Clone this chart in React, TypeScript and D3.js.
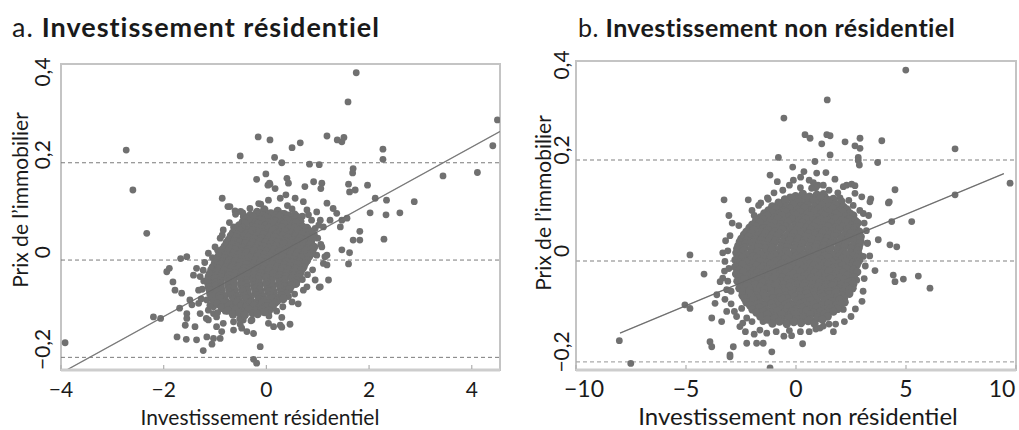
import React from "react";
import * as d3 from "d3";

// ---------- Panel a: residential investment ----------
const resOuter: [number, number][] = [
  [-2.73,0.226],[-2.6,0.144],[-0.16,0.253],[0.07,0.247],[-0.51,0.214],[0.16,0.211],[-0.19,0.166],[-0.01,0.177],
  [0.03,0.154],[-0.86,0.127],[-0.75,0.11],[-0.11,0.115],[1.75,0.385],[1.59,0.325],[1.18,0.255],[1.38,0.247],
  [1.47,0.243],[1.51,0.252],[0.66,0.241],[0.5,0.231],[2.27,0.228],[2.27,0.207],[0.3,0.2],[0.84,0.197],
  [1.03,0.196],[1.69,0.188],[1.68,0.179],[4.5,0.288],[4.41,0.235],[3.44,0.173],[4.11,0.18],[1.97,0.154],
  [1.6,0.156],[2.12,0.127],[2.34,0.123],[2.88,0.12],[0.92,0.161],[1.08,0.158],[1.06,0.147],[0.75,0.151],
  [0.4,0.168],[0.43,0.158],[0.07,0.156],[2.6,0.097],[2.02,0.097],[2.33,0.093],[1.82,0.059],[1.69,0.041],
  [1.82,0.041],[2.29,0.043],[1.47,0.021],[1.62,0.015],[1.6,-0.008],[1.08,0.027],[1.18,0.01],[1.11,-0.007],
  [1.21,-0.041],[1.03,-0.056],[0.43,-0.075],[0.3,-0.118],[0.14,-0.137],[0.3,-0.138],[0.46,-0.132],[-0.12,-0.178],
  [-2.33,0.055],[-1.67,0.003],[-1.94,-0.024],[-1.89,-0.017],[-1.82,-0.045],[-1.78,-0.062],[-1.42,-0.031],[-1.36,-0.017],
  [-1.23,-0.021],[-2.2,-0.117],[-2.06,-0.12],[-1.69,-0.099],[-1.55,-0.11],[-1.58,-0.134],[-1.45,-0.092],[-1.32,-0.089],
  [-1.17,-0.12],[-1.13,-0.103],[-1.03,-0.11],[-1.74,-0.158],[-1.56,-0.163],[-1.36,-0.164],[-1.16,-0.158],[-1.06,-0.173],
  [-1.23,-0.186],[-0.9,-0.161],[-3.92,-0.17],[-0.25,-0.204],[-0.19,-0.212],[-0.64,-0.127],[-0.51,-0.132],[-0.48,-0.14],
  [-0.38,-0.147],[-0.25,-0.151],[-0.87,-0.147],[-0.77,-0.089],[-0.64,-0.103],[-0.71,0.11],[-0.61,0.101],[1.62,0.14],
  [1.73,0.144],[0.06,0.158],[0.17,0.147],[0.38,0.134],[0.56,0.127],[0.72,0.12],[0.27,0.127],[0.04,0.123],
  [-0.32,0.106],[-0.6,0.094],[-0.38,0.089],[1.18,0.117],[1.3,0.106],[1.37,0.096],[1.24,0.082],[1.47,0.082],
  [1.11,0.068],[1.44,0.068],[1.57,0.086],[0.79,0.103],[0.98,0.099],[0.88,0.082],[1.05,0.082],[-1.29,-0.034],
  [-1.55,0.007],[-1.65,-0.068],[-1.49,-0.082],[-1.32,-0.062],[-1.16,-0.082],[-1.03,-0.096],[-1.29,-0.11],[-1.55,-0.12],
  [-1.39,-0.137],[-1.13,-0.123],[-0.97,-0.117],[-0.97,-0.137],[-0.84,-0.13],[-1.03,-0.161],[-0.64,-0.144],[-0.45,-0.123],
  [-0.28,-0.123],[0.04,-0.13],[0.27,-0.134],[0.59,-0.048],[0.79,-0.055],[1.05,-0.055],[1.18,-0.01],[1.14,0.007],
  [-0.45,0.089],[-0.32,0.082],[-0.64,0.068],[-0.84,0.062],[-0.9,0.045],[-1.0,0.027],[-1.13,0.014],[-0.77,0.034],
  [0.55,-0.07],[0.7,-0.04],[0.62,-0.09],[0.2,-0.105],[0.05,-0.115],[-0.3,-0.125],[-0.8,-0.105],[-1.2,-0.005],
  [-1.05,0.005],[-0.95,0.02],[-0.5,0.1],[0.5,0.105],[0.7,0.09],[0.95,0.065],[1.0,0.045],[0.98,0.01],
  [0.9,-0.02],[0.8,-0.03],[-1.25,-0.06],[-1.27,-0.08],[-1.22,-0.043],[-1.1,-0.093],[-0.95,-0.108],[-0.52,-0.121],
  [0.32,-0.096],[0.5,-0.086],[0.72,-0.062],[0.95,-0.041],[1.06,0.032],[1.02,0.072],[0.82,0.093],[0.41,0.112],
  [-0.15,0.116],[-0.46,0.097],[-0.72,0.077],[-0.86,0.051]
];

const resCore: [number, number][] = [
  [-0.18,0.099],[-0.04,0.104],[0.09,0.096],[0.22,0.101],[0.35,0.094],[0.02,0.09],
  [-0.31,0.092],[-0.18,0.094],[-0.06,0.091],[0.07,0.095],[0.19,0.092],[0.32,0.094],[0.44,0.091],[0.55,0.093],
  [-0.39,0.084],[-0.25,0.088],[-0.12,0.083],[0.01,0.087],[0.13,0.082],[0.26,0.089],[0.38,0.084],[0.51,0.081],[0.6,0.088],
  [-0.46,0.078],[-0.33,0.08],[-0.21,0.077],[-0.08,0.081],[0.05,0.078],[0.17,0.08],[0.3,0.077],[0.42,0.081],[0.54,0.078],[0.66,0.08],
  [-0.53,0.071],[-0.41,0.075],[-0.27,0.069],[-0.16,0.074],[-0.02,0.07],[0.11,0.076],[0.23,0.068],[0.34,0.073],[0.48,0.07],[0.58,0.075],[0.71,0.068],
  [-0.59,0.064],[-0.46,0.066],[-0.33,0.063],[-0.2,0.067],[-0.08,0.064],[0.05,0.066],[0.18,0.063],[0.31,0.067],[0.43,0.064],[0.55,0.066],[0.68,0.063],[0.79,0.066],
  [-0.65,0.056],[-0.52,0.06],[-0.38,0.055],[-0.27,0.061],[-0.13,0.057],[0.0,0.054],[0.12,0.06],[0.25,0.056],[0.37,0.059],[0.48,0.055],[0.62,0.061],[0.73,0.056],[0.85,0.059],
  [-0.69,0.05],[-0.56,0.052],[-0.43,0.049],[-0.3,0.053],[-0.18,0.05],[-0.05,0.052],[0.07,0.049],[0.2,0.053],[0.32,0.05],[0.45,0.052],[0.57,0.049],[0.7,0.053],[0.82,0.05],[0.92,0.052],
  [-0.73,0.042],[-0.59,0.047],[-0.48,0.041],[-0.34,0.046],[-0.23,0.043],[-0.09,0.045],[0.02,0.041],[0.16,0.047],[0.27,0.042],[0.41,0.046],[0.52,0.04],[0.66,0.045],[0.77,0.041],[0.9,0.046],
  [-0.77,0.036],[-0.63,0.038],[-0.52,0.035],[-0.38,0.039],[-0.27,0.036],[-0.13,0.038],[-0.02,0.035],[0.12,0.039],[0.23,0.036],[0.37,0.038],[0.48,0.035],[0.62,0.039],[0.73,0.036],[0.87,0.038],
  [-0.81,0.028],[-0.66,0.032],[-0.56,0.027],[-0.41,0.033],[-0.31,0.029],[-0.16,0.031],[-0.06,0.027],[0.09,0.032],[0.19,0.028],[0.34,0.033],[0.44,0.027],[0.59,0.031],[0.69,0.028],[0.84,0.032],[0.93,0.027],
  [-0.85,0.022],[-0.71,0.024],[-0.6,0.021],[-0.46,0.025],[-0.35,0.022],[-0.2,0.024],[-0.1,0.021],[0.05,0.025],[0.15,0.022],[0.3,0.024],[0.4,0.021],[0.55,0.025],[0.65,0.022],[0.8,0.024],[0.9,0.021],
  [-0.89,0.014],[-0.74,0.018],[-0.64,0.013],[-0.49,0.017],[-0.39,0.015],[-0.24,0.019],[-0.14,0.013],[0.01,0.017],[0.11,0.014],[0.26,0.018],[0.36,0.013],[0.51,0.017],[0.61,0.015],[0.76,0.019],[0.87,0.013],
  [-0.93,0.008],[-0.78,0.01],[-0.68,0.007],[-0.53,0.011],[-0.43,0.008],[-0.28,0.01],[-0.18,0.007],[-0.03,0.011],[0.07,0.008],[0.22,0.01],[0.32,0.007],[0.47,0.011],[0.57,0.008],[0.72,0.01],[0.83,0.007],
  [-0.97,0.0],[-0.82,0.004],[-0.72,-0.001],[-0.57,0.003],[-0.47,0.001],[-0.32,0.005],[-0.22,-0.001],[-0.07,0.003],[0.03,0.0],[0.18,0.004],[0.28,-0.001],[0.43,0.003],[0.53,0.001],[0.68,0.005],[0.79,-0.001],
  [-1.0,-0.006],[-0.86,-0.004],[-0.75,-0.007],[-0.61,-0.003],[-0.5,-0.006],[-0.36,-0.004],[-0.25,-0.007],[-0.11,-0.003],[0.0,-0.006],[0.14,-0.004],[0.25,-0.007],[0.39,-0.003],[0.5,-0.006],[0.64,-0.004],[0.75,-0.007],
  [-1.04,-0.014],[-0.89,-0.01],[-0.79,-0.015],[-0.64,-0.011],[-0.54,-0.013],[-0.39,-0.009],[-0.29,-0.015],[-0.14,-0.011],[-0.04,-0.013],[0.11,-0.009],[0.21,-0.014],[0.36,-0.01],[0.46,-0.013],[0.61,-0.01],[0.72,-0.015],
  [-1.07,-0.02],[-0.93,-0.018],[-0.82,-0.021],[-0.68,-0.017],[-0.57,-0.02],[-0.43,-0.018],[-0.32,-0.021],[-0.18,-0.017],[-0.07,-0.02],[0.07,-0.018],[0.18,-0.021],[0.32,-0.017],[0.43,-0.02],[0.57,-0.018],[0.68,-0.021],
  [-1.1,-0.028],[-0.96,-0.024],[-0.86,-0.029],[-0.71,-0.025],[-0.61,-0.027],[-0.46,-0.023],[-0.36,-0.029],[-0.21,-0.025],[-0.11,-0.027],[0.04,-0.023],[0.14,-0.028],[0.29,-0.024],[0.39,-0.027],[0.54,-0.024],[0.65,-0.029],
  [-1.12,-0.034],[-0.98,-0.032],[-0.88,-0.035],[-0.73,-0.031],[-0.63,-0.034],[-0.48,-0.032],[-0.38,-0.035],[-0.23,-0.031],[-0.13,-0.034],[0.02,-0.032],[0.12,-0.035],[0.27,-0.031],[0.37,-0.034],[0.52,-0.032],[0.62,-0.035],
  [-1.14,-0.042],[-1.0,-0.038],[-0.9,-0.043],[-0.75,-0.039],[-0.65,-0.041],[-0.5,-0.037],[-0.4,-0.043],[-0.25,-0.039],[-0.15,-0.041],[0.0,-0.037],[0.1,-0.042],[0.25,-0.038],[0.35,-0.041],[0.5,-0.038],[0.59,-0.043],
  [-1.13,-0.048],[-0.99,-0.046],[-0.89,-0.049],[-0.74,-0.045],[-0.64,-0.048],[-0.49,-0.046],[-0.39,-0.049],[-0.24,-0.045],[-0.14,-0.048],[0.01,-0.046],[0.11,-0.049],[0.26,-0.045],[0.36,-0.048],[0.5,-0.046],[0.57,-0.049],
  [-1.12,-0.056],[-0.99,-0.052],[-0.89,-0.057],[-0.74,-0.053],[-0.64,-0.055],[-0.49,-0.051],[-0.39,-0.057],[-0.24,-0.053],[-0.14,-0.055],[0.01,-0.051],[0.11,-0.056],[0.26,-0.052],[0.36,-0.055],[0.49,-0.052],
  [-1.1,-0.062],[-0.97,-0.06],[-0.87,-0.063],[-0.72,-0.059],[-0.62,-0.062],[-0.47,-0.06],[-0.37,-0.063],[-0.22,-0.059],[-0.12,-0.062],[0.03,-0.06],[0.13,-0.063],[0.28,-0.059],[0.38,-0.062],[0.45,-0.06],
  [-1.09,-0.07],[-0.96,-0.066],[-0.86,-0.071],[-0.71,-0.067],[-0.61,-0.069],[-0.46,-0.065],[-0.36,-0.071],[-0.21,-0.067],[-0.11,-0.069],[0.04,-0.065],[0.14,-0.07],[0.29,-0.066],[0.39,-0.069],
  [-1.05,-0.076],[-0.92,-0.074],[-0.82,-0.077],[-0.67,-0.073],[-0.57,-0.076],[-0.42,-0.074],[-0.32,-0.077],[-0.17,-0.073],[-0.07,-0.076],[0.08,-0.074],[0.18,-0.077],[0.31,-0.073],
  [-1.02,-0.084],[-0.89,-0.08],[-0.79,-0.085],[-0.64,-0.081],[-0.54,-0.083],[-0.39,-0.079],[-0.29,-0.085],[-0.14,-0.081],[-0.04,-0.083],[0.11,-0.079],[0.21,-0.084],[0.33,-0.08],
  [-0.95,-0.09],[-0.82,-0.088],[-0.71,-0.091],[-0.57,-0.087],[-0.46,-0.09],[-0.32,-0.088],[-0.21,-0.091],[-0.07,-0.087],[0.05,-0.09],[0.17,-0.088],
  [-0.87,-0.098],[-0.74,-0.094],[-0.64,-0.099],[-0.49,-0.095],[-0.39,-0.097],[-0.24,-0.093],[-0.14,-0.099],[0.01,-0.095],[0.12,-0.097],
  [-0.76,-0.104],[-0.6,-0.102],[-0.47,-0.105],[-0.34,-0.101],[-0.21,-0.104],[-0.09,-0.102],[0.05,-0.104],
  [-0.65,-0.112],[-0.52,-0.108],[-0.42,-0.113],[-0.27,-0.109],[-0.17,-0.111],[-0.04,-0.107]
];

// ---------- Panel b: non-residential investment ----------
const nonResOuter: [number, number][] = [
  [-0.55,0.283],[-0.8,0.205],[-1.18,0.17],[-0.85,0.157],[-3.27,0.121],[-2.17,0.121],[-1.26,0.122],[-0.8,0.117],
  [-0.58,0.114],[4.99,0.378],[1.42,0.319],[0.41,0.25],[0.64,0.243],[1.4,0.25],[1.55,0.248],[1.17,0.232],
  [2.23,0.236],[2.91,0.243],[2.68,0.228],[2.91,0.223],[3.9,0.238],[1.55,0.21],[2.83,0.205],[2.83,0.199],
  [2.88,0.19],[0.86,0.197],[3.71,0.195],[7.23,0.222],[-0.15,0.186],[0.36,0.177],[0.21,0.166],[-0.12,0.16],
  [0.94,0.174],[1.36,0.175],[1.77,0.162],[0.79,0.155],[0.71,0.144],[1.24,0.15],[1.24,0.134],[2.15,0.147],
  [2.3,0.15],[2.53,0.152],[2.68,0.149],[2.99,0.127],[3.4,0.123],[2.68,0.134],[4.5,0.141],[4.24,0.117],
  [9.73,0.154],[7.23,0.131],[0.33,0.134],[0.56,0.127],[0.71,0.121],[-0.27,0.127],[4.35,0.078],[5.26,0.078],
  [3.74,0.042],[3.24,0.035],[4.27,0.032],[4.58,0.028],[3.06,0.009],[2.91,0.002],[3.59,-0.019],[4.42,-0.028],
  [4.5,-0.041],[4.88,-0.036],[5.56,-0.03],[6.09,-0.054],[2.76,-0.038],[2.53,-0.044],[2.38,-0.051],[2.15,-0.096],
  [1.24,-0.129],[1.09,-0.133],[-0.55,-0.149],[0.3,-0.164],[2.3,0.094],[2.45,0.075],[3.06,0.094],[4.2,0.115],
  [3.36,0.117],[-4.82,0.012],[-4.18,-0.026],[-3.33,0.016],[-3.23,-0.001],[-3.33,-0.034],[-3.45,-0.041],[-3.15,-0.057],
  [-3.6,-0.067],[-3.23,-0.076],[-5.05,-0.087],[-4.82,-0.094],[-3.68,-0.084],[-3.83,-0.113],[-3.38,-0.12],[-2.42,-0.123],
  [-2.24,-0.113],[-8.03,-0.158],[-3.91,-0.16],[-3.83,-0.17],[-2.85,-0.17],[-3.0,-0.186],[-2.24,-0.163],[-1.79,-0.163],
  [-1.49,-0.163],[-1.64,-0.137],[-1.33,-0.143],[-1.1,-0.18],[-2.47,-0.094],[-7.51,-0.203],[-1.18,-0.212],[-3.0,-0.19],
  [-3.0,0.05],[-3.1,0.02],[-2.95,-0.06],[-2.8,-0.1],[-2.6,0.07],[3.2,0.06],[3.15,-0.01],[3.05,-0.06],
  [2.9,0.1],[3.3,0.09],[0.6,-0.14],[-0.3,-0.138],[1.5,-0.125],[-1.5,-0.12],[-2.0,0.1],[-1.6,0.115],
  [2.4,0.12],[1.9,0.135],[-0.6,0.14],[0.9,0.145],
  [-3.05,0.09],[-2.9,0.075],[-3.2,0.04],[-3.05,-0.015],[-3.25,-0.02],[-3.1,-0.04],[-2.95,-0.085],[-3.15,-0.1],
  [-2.7,-0.11],[-2.55,-0.13],[-2.3,-0.14],[-2.0,-0.12],[-1.9,-0.145],[-1.9,0.09],[-1.7,0.11],[-1.3,0.125],
  [-1.0,0.135],[-0.3,0.15],[0.2,0.145],[0.6,0.16],[1.0,0.15],[1.5,0.14],[2.0,0.125],[2.6,0.11],
  [3.1,0.075],[3.25,0.035],[3.35,0.01],[3.1,-0.035],[3.0,-0.08],[2.7,-0.095],[2.5,-0.11],[2.2,-0.12],
  [1.8,-0.125],[-0.9,-0.14],[-0.2,-0.148],[0.2,-0.14],[0.9,-0.135],[1.7,-0.14]
];

const nonResCore: [number, number][] = [
  [-0.02,0.128],[0.3,0.132],[0.62,0.127],[0.95,0.131],[1.28,0.129],
  [-0.5,0.122],[-0.18,0.124],[0.14,0.121],[0.46,0.125],[0.79,0.122],[1.11,0.124],[1.44,0.121],[1.7,0.123],
  [-0.8,0.114],[-0.48,0.118],[-0.15,0.113],[0.17,0.117],[0.5,0.115],[0.82,0.119],[1.14,0.114],[1.46,0.117],[1.79,0.113],[2.06,0.118],
  [-1.08,0.108],[-0.76,0.11],[-0.43,0.107],[-0.11,0.111],[0.22,0.108],[0.54,0.11],[0.86,0.107],[1.18,0.111],[1.51,0.108],[1.83,0.11],[2.16,0.107],
  [-1.25,0.1],[-0.93,0.104],[-0.6,0.099],[-0.28,0.103],[0.05,0.101],[0.37,0.105],[0.69,0.099],[1.02,0.103],[1.34,0.1],[1.67,0.104],[1.99,0.099],[2.31,0.102],
  [-1.44,0.094],[-1.11,0.096],[-0.79,0.093],[-0.46,0.097],[-0.14,0.094],[0.19,0.096],[0.51,0.093],[0.84,0.097],[1.16,0.094],[1.49,0.096],[1.81,0.093],[2.13,0.097],[2.45,0.094],
  [-1.62,0.086],[-1.3,0.09],[-0.97,0.085],[-0.65,0.089],[-0.32,0.087],[0.0,0.091],[0.32,0.085],[0.65,0.089],[0.97,0.086],[1.3,0.09],[1.62,0.085],[1.95,0.089],[2.27,0.087],[2.6,0.09],
  [-1.81,0.08],[-1.49,0.082],[-1.16,0.079],[-0.84,0.083],[-0.51,0.08],[-0.19,0.082],[0.14,0.079],[0.46,0.083],[0.79,0.08],[1.11,0.082],[1.44,0.079],[1.76,0.083],[2.09,0.08],[2.41,0.082],[2.7,0.079],
  [-1.98,0.072],[-1.65,0.076],[-1.33,0.071],[-1.0,0.075],[-0.68,0.073],[-0.36,0.077],[-0.03,0.071],[0.29,0.075],[0.62,0.072],[0.94,0.076],[1.27,0.071],[1.59,0.075],[1.91,0.073],[2.24,0.077],[2.56,0.071],[2.8,0.075],
  [-2.11,0.066],[-1.79,0.068],[-1.46,0.065],[-1.14,0.069],[-0.81,0.066],[-0.49,0.068],[-0.16,0.065],[0.16,0.069],[0.49,0.066],[0.81,0.068],[1.14,0.065],[1.46,0.069],[1.79,0.066],[2.11,0.068],[2.44,0.065],[2.72,0.067],
  [-2.25,0.058],[-1.93,0.062],[-1.6,0.057],[-1.28,0.061],[-0.95,0.059],[-0.63,0.063],[-0.3,0.057],[0.02,0.061],[0.34,0.058],[0.67,0.062],[0.99,0.057],[1.32,0.061],[1.64,0.059],[1.97,0.063],[2.29,0.057],[2.62,0.061],[2.88,0.058],
  [-2.36,0.052],[-2.04,0.054],[-1.71,0.051],[-1.39,0.055],[-1.06,0.052],[-0.74,0.054],[-0.41,0.051],[-0.09,0.055],[0.24,0.052],[0.56,0.054],[0.89,0.051],[1.21,0.055],[1.54,0.052],[1.86,0.054],[2.19,0.051],[2.51,0.055],[2.82,0.052],
  [-2.48,0.044],[-2.15,0.048],[-1.83,0.043],[-1.5,0.047],[-1.18,0.045],[-0.85,0.049],[-0.53,0.043],[-0.2,0.047],[0.12,0.044],[0.45,0.048],[0.77,0.043],[1.1,0.047],[1.42,0.045],[1.75,0.049],[2.07,0.043],[2.4,0.047],[2.72,0.044],[2.94,0.048],
  [-2.55,0.038],[-2.23,0.04],[-1.9,0.037],[-1.58,0.041],[-1.25,0.038],[-0.93,0.04],[-0.6,0.037],[-0.28,0.041],[0.05,0.038],[0.37,0.04],[0.7,0.037],[1.02,0.041],[1.35,0.038],[1.67,0.04],[2.0,0.037],[2.32,0.041],[2.65,0.038],[2.92,0.04],
  [-2.62,0.03],[-2.3,0.034],[-1.97,0.029],[-1.65,0.033],[-1.32,0.031],[-1.0,0.035],[-0.67,0.029],[-0.35,0.033],[-0.02,0.03],[0.3,0.034],[0.63,0.029],[0.95,0.033],[1.28,0.031],[1.6,0.035],[1.93,0.029],[2.25,0.033],[2.58,0.03],[2.9,0.034],
  [-2.67,0.024],[-2.35,0.026],[-2.02,0.023],[-1.7,0.027],[-1.37,0.024],[-1.05,0.026],[-0.72,0.023],[-0.4,0.027],[-0.07,0.024],[0.25,0.026],[0.58,0.023],[0.9,0.027],[1.23,0.024],[1.55,0.026],[1.88,0.023],[2.2,0.027],[2.53,0.024],[2.85,0.026],
  [-2.71,0.016],[-2.39,0.02],[-2.06,0.015],[-1.74,0.019],[-1.41,0.017],[-1.09,0.021],[-0.76,0.015],[-0.44,0.019],[-0.11,0.016],[0.21,0.02],[0.54,0.015],[0.86,0.019],[1.19,0.017],[1.51,0.021],[1.84,0.015],[2.16,0.019],[2.49,0.016],[2.81,0.02],
  [-2.59,0.01],[-2.27,0.012],[-1.94,0.009],[-1.62,0.013],[-1.29,0.01],[-0.97,0.012],[-0.64,0.009],[-0.32,0.013],[0.01,0.01],[0.33,0.012],[0.66,0.009],[0.98,0.013],[1.31,0.01],[1.63,0.012],[1.96,0.009],[2.28,0.013],[2.61,0.01],[2.86,0.012],
  [-2.75,0.002],[-2.43,0.006],[-2.1,0.001],[-1.78,0.005],[-1.45,0.003],[-1.13,0.007],[-0.8,0.001],[-0.48,0.005],[-0.15,0.002],[0.17,0.006],[0.5,0.001],[0.82,0.005],[1.15,0.003],[1.47,0.007],[1.8,0.001],[2.12,0.005],[2.45,0.002],[2.77,0.006],
  [-2.6,-0.004],[-2.28,-0.002],[-1.95,-0.005],[-1.63,-0.001],[-1.3,-0.004],[-0.98,-0.002],[-0.65,-0.005],[-0.33,-0.001],[0.0,-0.004],[0.32,-0.002],[0.65,-0.005],[0.97,-0.001],[1.3,-0.004],[1.62,-0.002],[1.95,-0.005],[2.27,-0.001],[2.6,-0.004],[2.82,-0.002],
  [-2.76,-0.012],[-2.44,-0.008],[-2.11,-0.013],[-1.79,-0.009],[-1.46,-0.011],[-1.14,-0.007],[-0.81,-0.013],[-0.49,-0.009],[-0.16,-0.012],[0.16,-0.008],[0.49,-0.013],[0.81,-0.009],[1.14,-0.011],[1.46,-0.007],[1.79,-0.013],[2.11,-0.009],[2.44,-0.012],[2.76,-0.008],
  [-2.58,-0.018],[-2.26,-0.016],[-1.93,-0.019],[-1.61,-0.015],[-1.28,-0.018],[-0.96,-0.016],[-0.63,-0.019],[-0.31,-0.015],[0.02,-0.018],[0.34,-0.016],[0.67,-0.019],[0.99,-0.015],[1.32,-0.018],[1.64,-0.016],[1.97,-0.019],[2.29,-0.015],[2.62,-0.018],
  [-2.72,-0.026],[-2.4,-0.022],[-2.07,-0.027],[-1.75,-0.023],[-1.42,-0.025],[-1.1,-0.021],[-0.77,-0.027],[-0.45,-0.023],[-0.12,-0.026],[0.2,-0.022],[0.53,-0.027],[0.85,-0.023],[1.18,-0.025],[1.5,-0.021],[1.83,-0.027],[2.15,-0.023],[2.48,-0.026],[2.78,-0.022],
  [-2.55,-0.032],[-2.23,-0.03],[-1.9,-0.033],[-1.58,-0.029],[-1.25,-0.032],[-0.93,-0.03],[-0.6,-0.033],[-0.28,-0.029],[0.05,-0.032],[0.37,-0.03],[0.7,-0.033],[1.02,-0.029],[1.35,-0.032],[1.67,-0.03],[2.0,-0.033],[2.32,-0.029],[2.63,-0.032],
  [-2.66,-0.04],[-2.34,-0.036],[-2.01,-0.041],[-1.69,-0.037],[-1.36,-0.039],[-1.04,-0.035],[-0.71,-0.041],[-0.39,-0.037],[-0.06,-0.04],[0.26,-0.036],[0.59,-0.041],[0.91,-0.037],[1.24,-0.039],[1.56,-0.035],[1.89,-0.041],[2.21,-0.037],[2.54,-0.04],
  [-2.5,-0.046],[-2.18,-0.044],[-1.85,-0.047],[-1.53,-0.043],[-1.2,-0.046],[-0.88,-0.044],[-0.55,-0.047],[-0.23,-0.043],[0.1,-0.046],[0.42,-0.044],[0.75,-0.047],[1.07,-0.043],[1.4,-0.046],[1.72,-0.044],[2.05,-0.047],[2.37,-0.043],[2.6,-0.046],
  [-2.57,-0.054],[-2.25,-0.05],[-1.92,-0.055],[-1.6,-0.051],[-1.27,-0.053],[-0.95,-0.049],[-0.62,-0.055],[-0.3,-0.051],[0.03,-0.054],[0.35,-0.05],[0.68,-0.055],[1.0,-0.051],[1.33,-0.053],[1.65,-0.049],[1.98,-0.055],[2.3,-0.051],[2.57,-0.054],
  [-2.41,-0.06],[-2.09,-0.058],[-1.76,-0.061],[-1.44,-0.057],[-1.11,-0.06],[-0.79,-0.058],[-0.46,-0.061],[-0.14,-0.057],[0.19,-0.06],[0.51,-0.058],[0.84,-0.061],[1.16,-0.057],[1.49,-0.06],[1.81,-0.058],[2.14,-0.061],[2.45,-0.057],
  [-2.43,-0.068],[-2.11,-0.064],[-1.78,-0.069],[-1.46,-0.065],[-1.13,-0.067],[-0.81,-0.063],[-0.48,-0.069],[-0.16,-0.065],[0.17,-0.068],[0.49,-0.064],[0.82,-0.069],[1.14,-0.065],[1.47,-0.067],[1.79,-0.063],[2.12,-0.069],[2.42,-0.065],
  [-2.34,-0.074],[-2.02,-0.072],[-1.69,-0.075],[-1.37,-0.071],[-1.04,-0.074],[-0.72,-0.072],[-0.39,-0.075],[-0.07,-0.071],[0.26,-0.074],[0.58,-0.072],[0.91,-0.075],[1.23,-0.071],[1.56,-0.074],[1.88,-0.072],[2.18,-0.075],
  [-2.25,-0.082],[-1.93,-0.078],[-1.6,-0.083],[-1.28,-0.079],[-0.95,-0.081],[-0.63,-0.077],[-0.3,-0.083],[0.02,-0.079],[0.35,-0.082],[0.67,-0.078],[1.0,-0.083],[1.32,-0.079],[1.65,-0.081],[1.97,-0.077],[2.21,-0.082],
  [-2.09,-0.088],[-1.77,-0.086],[-1.44,-0.089],[-1.12,-0.085],[-0.79,-0.088],[-0.47,-0.086],[-0.14,-0.089],[0.18,-0.085],[0.51,-0.088],[0.83,-0.086],[1.16,-0.089],[1.48,-0.085],[1.81,-0.088],[2.05,-0.086],
  [-1.98,-0.096],[-1.66,-0.092],[-1.33,-0.097],[-1.01,-0.093],[-0.68,-0.095],[-0.36,-0.091],[-0.03,-0.097],[0.29,-0.093],[0.62,-0.096],[0.94,-0.092],[1.27,-0.097],[1.59,-0.093],[1.89,-0.095],
  [-1.8,-0.102],[-1.48,-0.1],[-1.15,-0.103],[-0.83,-0.099],[-0.5,-0.102],[-0.18,-0.1],[0.15,-0.103],[0.47,-0.099],[0.8,-0.102],[1.12,-0.1],[1.45,-0.103],[1.7,-0.1],
  [-1.62,-0.11],[-1.3,-0.106],[-0.97,-0.111],[-0.65,-0.107],[-0.32,-0.109],[0.0,-0.105],[0.33,-0.111],[0.65,-0.107],[0.98,-0.109],[1.3,-0.105],[1.44,-0.11],
  [-1.3,-0.116],[-0.97,-0.114],[-0.65,-0.117],[-0.32,-0.113],[0.0,-0.116],[0.33,-0.114],[0.65,-0.117],[0.98,-0.113],[1.2,-0.116],
  [-1.07,-0.124],[-0.75,-0.12],[-0.42,-0.125],[-0.1,-0.121],[0.23,-0.123],[0.55,-0.119],[0.84,-0.124]
];

const resTicksX = [-4, -2, 0, 2, 4];
const nonResTicksX = [-10, -5, 0, 5, 10];
const ticksY = [-0.2, 0, 0.2, 0.4];
const refLinesY = [-0.2, 0, 0.2];
const resFit = [0, 0.0581]; // intercept, slope
const resFitRange = [-4.05, 4.6];
const nonResFit = [0.002, 0.0181];
const nonResFitRange = [-8.0, 9.45];

const FONT = "Lato, 'Open Sans', sans-serif";

const fmt = (v: number) =>
  (v < 0 ? "\u2212" : "") + String(Math.abs(v)).replace(".", ",");

type PanelProps = {
  id: string;
  box: { left: number; top: number; right: number; bottom: number };
  xDomain: [number, number];
  yDomain: [number, number];
  outer: [number, number][];
  core: [number, number][];
  xTicks: number[];
  fit: number[];
  fitRange: number[];
  prefix: string;
  title: string;
  xTitle: string;
  titleX: number;
  titleSize: number;
  titleSpacing: number;
  xTickSize: number;
  yTickSize: number;
  xTitleSize: number;
  yTitleSize: number;
  yTickX: number;
  yTickShift: number;
  yTickTopPad: number;
  yTitleX: number;
  yTitleY: number;
  xTitleX: number;
  xLabelInset: [number, number];
  dashColor: string;
  dashWidth: number;
  fitColor: string;
};

const DOT = "#707070";

function Panel(p: PanelProps) {
  const { left, top, right, bottom } = p.box;
  const x = d3.scaleLinear().domain(p.xDomain).range([left, right]);
  const y = d3.scaleLinear().domain(p.yDomain).range([bottom, top]);
  const fitLine = d3
    .line<number>()
    .x((d) => x(d))
    .y((d) => y(p.fit[0] + p.fit[1] * d));
  return (
    <g>
      <text x={p.titleX} y={37} fontSize={p.titleSize} letterSpacing={p.titleSpacing} fill="#1a1a1a" fontFamily={FONT}>
        <tspan>{p.prefix}</tspan>
        <tspan fontWeight="bold">{p.title}</tspan>
      </text>
      <defs>
        <clipPath id={p.id}>
          <rect x={left} y={top} width={right - left} height={bottom - top} />
        </clipPath>
      </defs>
      <rect x={left} y={top} width={right - left} height={bottom - top} fill="#ffffff" stroke="#c4c4c4" strokeWidth={2} />
      <g clipPath={`url(#${p.id})`}>
        {refLinesY.map((v) => (
          <line key={v} x1={left} x2={right} y1={y(v)} y2={y(v)} stroke={p.dashColor} strokeWidth={p.dashWidth} strokeDasharray="4,3" />
        ))}
        <path d={fitLine(p.fitRange) || ""} fill="none" stroke={p.fitColor} strokeWidth={1.3} />
        {p.outer.map((d, i) => (
          <circle key={"o" + i} cx={x(d[0])} cy={y(d[1])} r={3.4} fill={DOT} />
        ))}
        {p.core.map((d, i) => (
          <circle key={"c" + i} cx={x(d[0])} cy={y(d[1])} r={4.2} fill={DOT} />
        ))}
        <path d={fitLine(p.fitRange) || ""} fill="none" stroke="#5a5a5a" strokeOpacity={0.35} strokeWidth={1} />
      </g>
      <line x1={left} x2={right} y1={bottom} y2={bottom} stroke="#cdcdcd" strokeWidth={3} />
      {p.xTicks.map((v) => (
        <line key={v} x1={x(v)} x2={x(v)} y1={bottom - 1} y2={bottom - 5} stroke="#b0b0b0" strokeWidth={1.2} />
      ))}
      {p.xTicks.map((v) => {
        const cx = Math.min(Math.max(x(v), left + p.xLabelInset[0]), right - p.xLabelInset[1]);
        return (
          <text key={v} x={cx} y={397} textAnchor="middle" fontSize={p.xTickSize} fill="#1a1a1a" fontFamily={FONT}>
            {fmt(v)}
          </text>
        );
      })}
      {ticksY.map((v) => {
        const cy = Math.max(y(v) + p.yTickShift, top + p.yTickTopPad);
        return (
          <text key={v} transform={`translate(${p.yTickX},${cy}) rotate(-90)`} textAnchor="middle" fontSize={p.yTickSize} fill="#1a1a1a" fontFamily={FONT}>
            {fmt(v)}
          </text>
        );
      })}
      <text transform={`translate(${p.yTitleX},${p.yTitleY}) rotate(-90)`} textAnchor="middle" fontSize={p.yTitleSize} fill="#1a1a1a" fontFamily={FONT}>
        Prix de l’immobilier
      </text>
      <text x={p.xTitleX} y={425} textAnchor="middle" fontSize={p.xTitleSize} fill="#1a1a1a" fontFamily={FONT}>
        {p.xTitle}
      </text>
    </g>
  );
}

export default function App() {
  return (
    <svg width={1019} height={430} style={{ position: "absolute", left: 0, top: 0, background: "#ffffff" }}>
      <Panel
        id="clipA"
        box={{ left: 61, top: 64, right: 500, bottom: 370 }}
        xDomain={[-4, 4.55]}
        yDomain={[-0.226, 0.403]}
        outer={resOuter}
        core={resCore}
        xTicks={resTicksX}
        fit={resFit}
        fitRange={resFitRange}
        prefix="a. "
        title="Investissement résidentiel"
        xTitle="Investissement résidentiel"
        titleX={12}
        titleSize={27}
        titleSpacing={1}
        xTickSize={21}
        yTickSize={21}
        xTitleSize={21}
        yTitleSize={21}
        yTickX={50}
        yTickShift={-8}
        yTickTopPad={8}
        yTitleX={28}
        yTitleY={200}
        xTitleX={260}
        xLabelInset={[0, 0]}
        dashColor="#7a7a7a"
        dashWidth={1}
        fitColor="#8a8a8a"
      />
      <Panel
        id="clipB"
        box={{ left: 576, top: 61, right: 1016, bottom: 370 }}
        xDomain={[-10, 10]}
        yDomain={[-0.216, 0.396]}
        outer={nonResOuter}
        core={nonResCore}
        xTicks={nonResTicksX}
        fit={nonResFit}
        fitRange={nonResFitRange}
        prefix="b. "
        title="Investissement non résidentiel"
        xTitle="Investissement non résidentiel"
        titleX={578}
        titleSize={25}
        titleSpacing={0.4}
        xTickSize={23}
        yTickSize={21}
        xTitleSize={24}
        yTitleSize={21}
        yTickX={569}
        yTickShift={-10}
        yTickTopPad={4}
        yTitleX={551}
        yTitleY={203}
        xTitleX={798}
        xLabelInset={[8, 14]}
        dashColor="#ababab"
        dashWidth={1.4}
        fitColor="#7a7a7a"
      />
    </svg>
  );
}
